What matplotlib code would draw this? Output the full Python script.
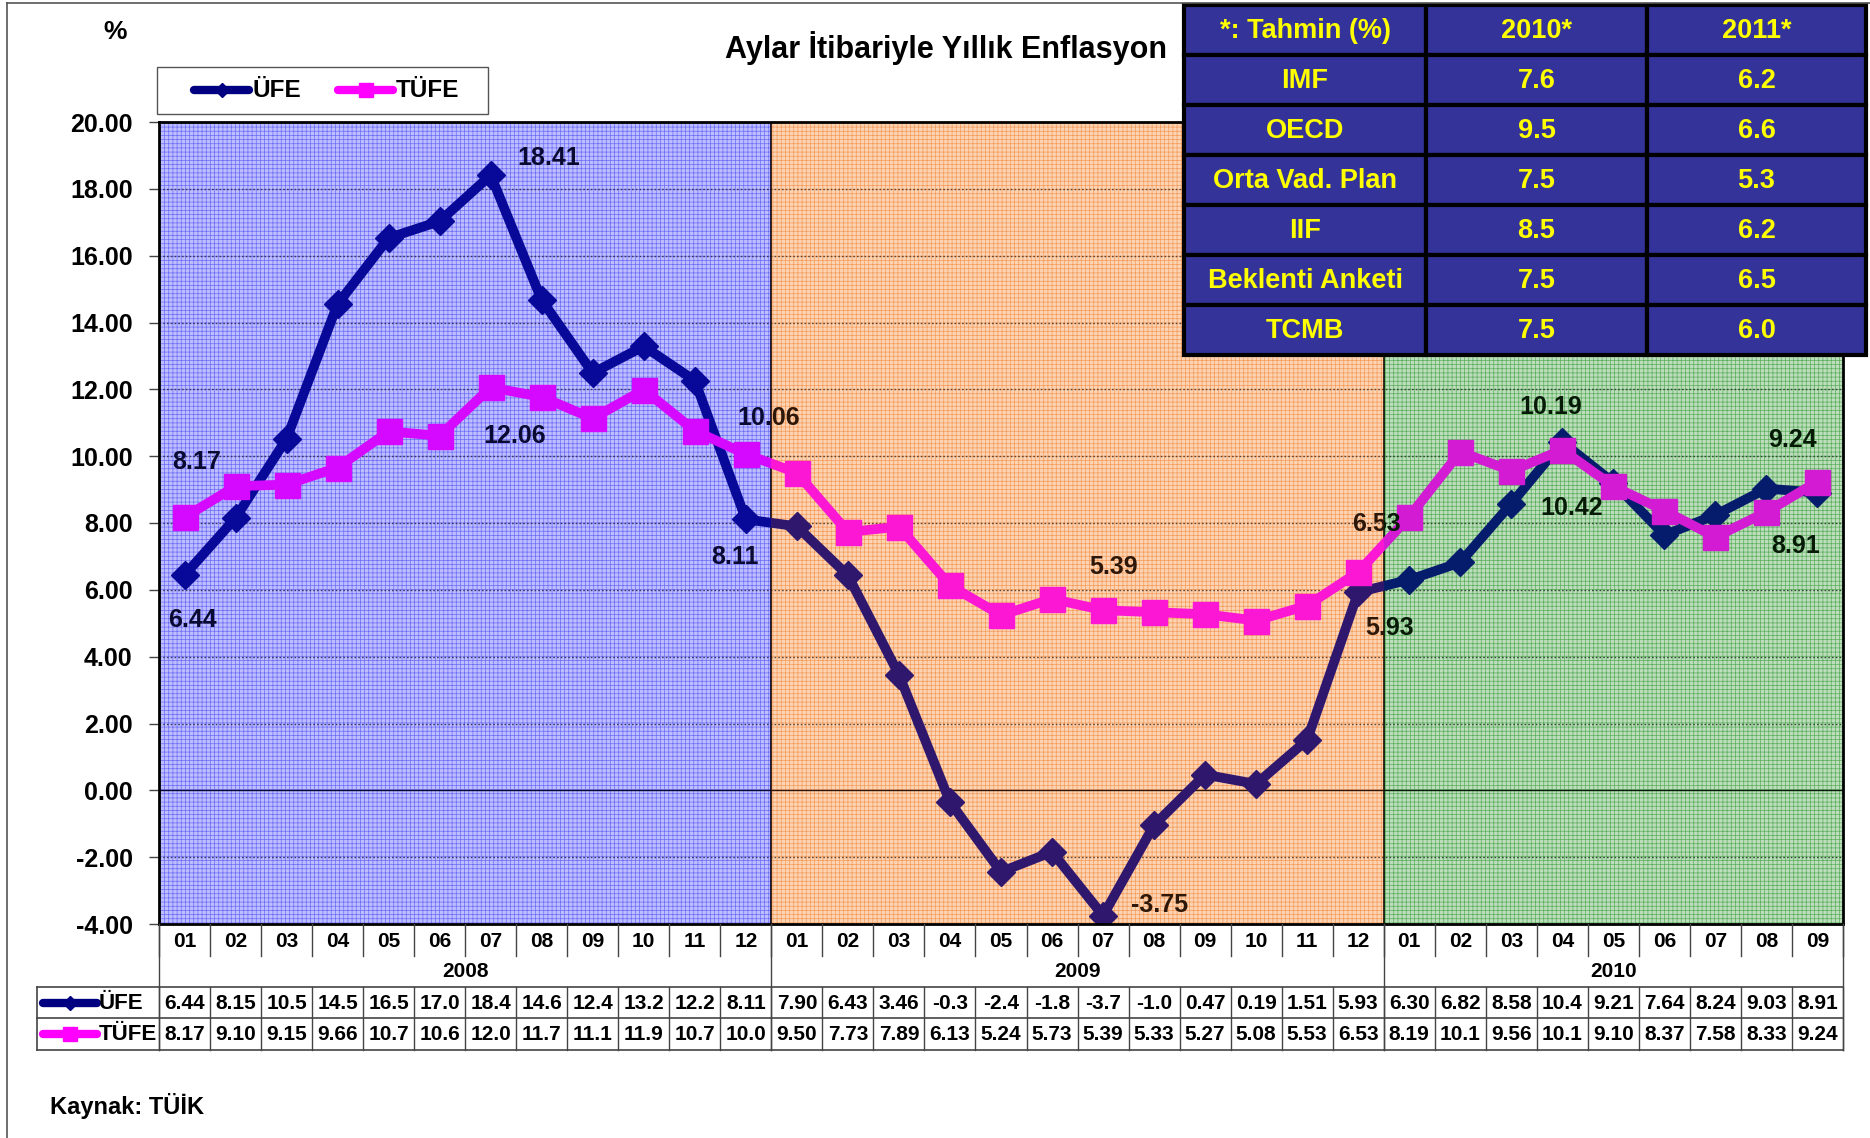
import matplotlib
matplotlib.use('Agg')
import matplotlib.pyplot as plt
from matplotlib import font_manager
from matplotlib.patches import Rectangle
from matplotlib.transforms import blended_transform_factory
import numpy as np

# ---------------- data ----------------
title = 'Aylar İtibariyle Yıllık Enflasyon'
month_labels = ['01', '02', '03', '04', '05', '06', '07', '08', '09', '10', '11', '12',
                '01', '02', '03', '04', '05', '06', '07', '08', '09', '10', '11', '12',
                '01', '02', '03', '04', '05', '06', '07', '08', '09']
years = ['2008', '2009', '2010']
year_counts = [12, 12, 9]
series_names = ['ÜFE', 'TÜFE']
ufe = [6.44, 8.15, 10.52, 14.55, 16.53, 17.03, 18.41, 14.67, 12.49, 13.29, 12.26, 8.11,
       7.90, 6.43, 3.46, -0.35, -2.44, -1.84, -3.75, -1.04, 0.47, 0.19, 1.51, 5.93,
       6.30, 6.82, 8.58, 10.42, 9.21, 7.64, 8.24, 9.03, 8.91]
tufe = [8.17, 9.10, 9.15, 9.66, 10.74, 10.61, 12.06, 11.77, 11.13, 11.99, 10.76, 10.06,
        9.50, 7.73, 7.89, 6.13, 5.24, 5.73, 5.39, 5.33, 5.27, 5.08, 5.53, 6.53,
        8.19, 10.13, 9.56, 10.19, 9.10, 8.37, 7.58, 8.33, 9.24]
forecast_header = ['*: Tahmin (%)', '2010*', '2011*']
forecast_sources = ['IMF', 'OECD', 'Orta Vad. Plan', 'IIF', 'Beklenti Anketi', 'TCMB']
forecast_2010 = [7.6, 9.5, 7.5, 8.5, 7.5, 7.5]
forecast_2011 = [6.2, 6.6, 5.3, 6.2, 6.5, 6.0]
source_note = 'Kaynak: TÜİK'

# labelled points: (series index, month index, dx, dy) offsets in px
label_points = [(1, 0, 10, -46), (0, 0, 7, 38), (0, 6, 49, -14), (1, 6, 20, 41),
                (1, 11, 19, -30), (0, 11, -9, 32), (1, 18, 9, -36), (0, 18, 47, -9),
                (1, 23, 15, -40), (0, 23, 26, 30), (1, 27, -10, -36), (0, 27, 8, 55),
                (1, 32, -21, -35), (0, 32, -18, 45)]

# ---------------- style ----------------
plt.rcParams['font.family'] = ['Liberation Sans', 'DejaVu Sans']
plt.rcParams['hatch.linewidth'] = 0.5
names = {f.name for f in font_manager.fontManager.ttflist}
narrow = 'Liberation Sans Narrow' in names
tbl_family = ['Liberation Sans Narrow', 'Liberation Sans'] if narrow else ['Liberation Sans']
tbl_size = 23 if narrow else 19.5

UFE_C = '#000080'
TUFE_C = '#FF00FF'
region_base = ['#E2E2FF', '#FFEBD8', '#E4F3E4']
region_hatch = ['#7C7CF6', '#F6A466', '#6AB66A']
region_over = ['#3030FF', '#F07828', '#1E8C1E']

W, H = 1870, 1138
AX_L, AX_R, AX_T, AX_B = 159, 1843, 122, 924
fig = plt.figure(figsize=(W / 100, H / 100), dpi=100)

ax = fig.add_axes([AX_L / W, 1 - AX_B / H, (AX_R - AX_L) / W, (AX_B - AX_T) / H])
ov = fig.add_axes([0, 0, 1, 1], zorder=10)
ov.set_xlim(0, W)
ov.set_ylim(H, 0)
ov.axis('off')
ov.patch.set_alpha(0)

n = len(ufe)
x = np.arange(n)
ax.set_xlim(-0.5, n - 0.5)
ax.set_ylim(-4, 20)
bounds = np.concatenate([[-0.5], np.cumsum(year_counts) - 0.5])

for i in range(len(years)):
    b0, b1 = bounds[i], bounds[i + 1]
    ax.add_patch(Rectangle((b0, -4), b1 - b0, 24, facecolor=region_base[i],
                           edgecolor=region_hatch[i], hatch='++++', lw=0, zorder=0))
    ax.add_patch(Rectangle((b0, -4), b1 - b0, 24, facecolor=region_over[i],
                           edgecolor='none', alpha=0.2, zorder=4))

yt = np.arange(-4, 21, 2)
for y in yt[1:-1]:
    if y == 0:
        ax.axhline(y, color='black', lw=1.0, zorder=1)
    else:
        ax.axhline(y, color='#3a3a3a', lw=1.0, ls=(0, (1.2, 1.5)), zorder=1)
for b in bounds[1:-1]:
    ax.axvline(b, color='black', lw=1.3, zorder=1)

ax.plot(x, ufe, color=UFE_C, lw=7, marker='D', ms=14, zorder=3)
ax.plot(x, tufe, color=TUFE_C, lw=7, marker='s', ms=18, zorder=3)

series = [ufe, tufe]
k = 1.1926 / 1.389
for si, mi, dx, dy in label_points:
    v = series[si][mi]
    ax.annotate(f'{v:.2f}', (mi, v), xytext=(dx * k, -dy * k), textcoords='offset points',
                ha='center', va='center', fontsize=18, weight='bold', color='black', zorder=3.5)

for s in ax.spines.values():
    s.set_linewidth(2)
    s.set_color('black')
    s.set_zorder(6)
ax.set_yticks(yt)
ax.set_yticklabels([f'{v:.2f}' for v in yt], fontsize=18, weight='bold')
ax.tick_params(axis='y', length=7, width=1, pad=12, color='#444444')
ax.set_xticks([])

# ---------------- data table under the axis ----------------
bt = blended_transform_factory(ax.transData, ov.transData)
LC = '#444444'
for b in np.arange(n + 1) - 0.5:
    ov.plot([b, b], [AX_B, 956], transform=bt, color=LC, lw=1)
    ov.plot([b, b], [987, 1050], transform=bt, color=LC, lw=1)
for b in bounds:
    ov.plot([b, b], [AX_B, 1050], transform=bt, color=LC, lw=1)
for yy in [987, 1018, 1050]:
    ov.plot([37, AX_R], [yy, yy], color=LC, lw=1.2)
ov.plot([37, 37], [987, 1050], color=LC, lw=1.2)

for i, lab in enumerate(month_labels):
    ov.text(i, 941, lab, transform=bt, ha='center', va='center', fontsize=15, weight='bold')
for i, yr in enumerate(years):
    ov.text((bounds[i] + bounds[i + 1]) / 2, 971, yr, transform=bt, ha='center',
            va='center', fontsize=15, weight='bold')


def cell_fmt(v):
    return f'{v:.2f}'[:4]


row_y = [1003, 1034]
for si, vals in enumerate(series):
    for i, v in enumerate(vals):
        ov.text(i, row_y[si], cell_fmt(v), transform=bt, ha='center', va='center',
                fontsize=15, weight='bold')

# row header icons
icon = [(UFE_C, 'D', 7), (TUFE_C, 's', 10)]
for si, name in enumerate(series_names):
    c, m, ms = icon[si]
    yy = row_y[si]
    ov.plot([43, 97], [yy, yy], color=c, lw=6, solid_capstyle='round')
    ov.plot([70], [yy], color=c, marker=m, ms=ms, ls='none')
    ov.text(99, yy, name, ha='left', va='center', fontsize=16, weight='bold')

# ---------------- legend ----------------
ov.add_patch(Rectangle((157, 67), 331, 47, facecolor='white', edgecolor='#555555', lw=1))
leg_x = [(194, 249, 252), (338, 393, 396)]
for si, name in enumerate(series_names):
    c, m, ms = icon[si]
    x0, x1, tx = leg_x[si]
    ov.plot([x0, x1], [90, 90], color=c, lw=6, solid_capstyle='round')
    ov.plot([(x0 + x1) / 2], [90], color=c, marker=m, ms=ms, ls='none')
    ov.text(tx, 90, name, ha='left', va='center', fontsize=17.5, weight='bold')

# ---------------- forecast table ----------------
col_x = [1184, 1426, 1647, 1866]
row_h = 50
top = 5
rows = [forecast_header] + [[s, f'{a:.1f}', f'{b:.1f}'] for s, a, b in
                             zip(forecast_sources, forecast_2010, forecast_2011)]
for r, row in enumerate(rows):
    for c in range(3):
        x0, x1 = col_x[c], col_x[c + 1]
        y0 = top + r * row_h
        ov.add_patch(Rectangle((x0, y0), x1 - x0, row_h, facecolor='#333399',
                               edgecolor='black', lw=3))
        ov.text((x0 + x1) / 2, y0 + row_h / 2 + 1, row[c], ha='center', va='center',
                color='#FFFF00', fontsize=tbl_size, weight='bold', family=tbl_family)

# ---------------- texts & frame ----------------
ov.text(946, 48, title, ha='center', va='center', fontsize=22, weight='bold')
ov.text(115, 32, '%', ha='center', va='center', fontsize=19, weight='bold')
ov.text(50, 1106, source_note, ha='left', va='center', fontsize=17, weight='bold')
ov.plot([7, 7], [3, H], color='#555555', lw=1.2)
ov.plot([7, W], [3, 3], color='#555555', lw=1.2)

fig.savefig('out.png', dpi=100)
